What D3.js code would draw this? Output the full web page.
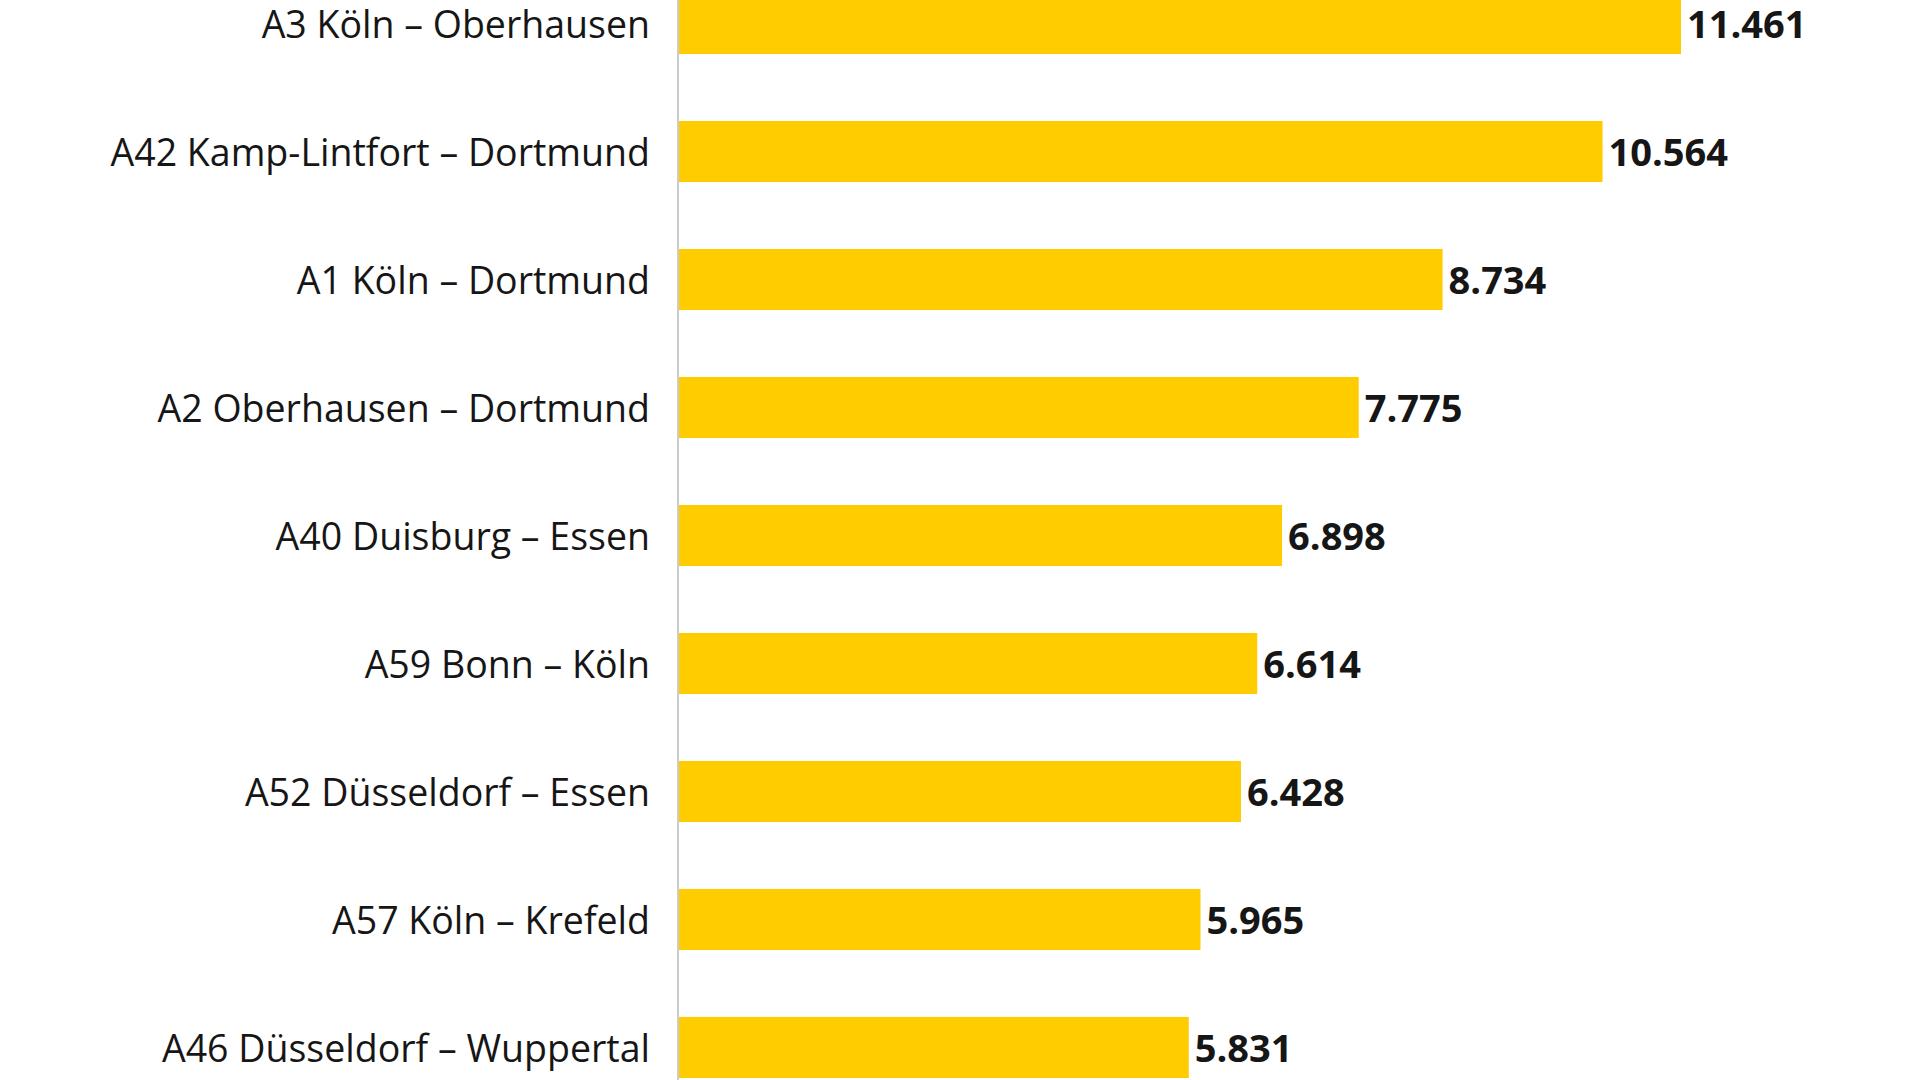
<!DOCTYPE html>
<html>
<head>
<meta charset="utf-8">
<script src="https://cdn.jsdelivr.net/npm/d3@7"></script>
<style>
  html, body { margin: 0; padding: 0; background: #ffffff; }
  svg { display: block; }
</style>
</head>
<body>
<svg id="chart" width="1920" height="1080"></svg>
<script>
const categories = [
  "A3 Köln – Oberhausen",
  "A42 Kamp-Lintfort – Dortmund",
  "A1 Köln – Dortmund",
  "A2 Oberhausen – Dortmund",
  "A40 Duisburg – Essen",
  "A59 Bonn – Köln",
  "A52 Düsseldorf – Essen",
  "A57 Köln – Krefeld",
  "A46 Düsseldorf – Wuppertal"
];
const values = [11461, 10564, 8734, 7775, 6898, 6614, 6428, 5965, 5831];

const data = categories.map((c, i) => ({ name: c, value: values[i] }));

const svg = d3.select("#chart");
const W = 1920, H = 1080;
const left = 679;

const x = d3.scaleLinear()
  .domain([0, d3.max(values)])
  .range([left, 1681]);

const y = d3.scaleBand()
  .domain(categories)
  .range([-7, 1078])
  .paddingInner(0.523)
  .paddingOuter(0);

const fmt = d3.formatLocale({ decimal: ",", thousands: ".", grouping: [3], currency: ["", " €"] }).format(",d");

svg.append("g")
  .selectAll("rect")
  .data(data)
  .join("rect")
  .attr("x", x(0))
  .attr("y", d => y(d.name))
  .attr("width", d => x(d.value) - x(0))
  .attr("height", y.bandwidth())
  .attr("fill", "#ffcc00");

// category labels via axis
const yAxis = d3.axisLeft(y).tickSize(0).tickPadding(28);
const gAxis = svg.append("g")
  .attr("transform", `translate(${x(0) - 1},0)`)
  .call(yAxis);
gAxis.select(".domain").remove();
gAxis.selectAll("text")
  .attr("font-family", "'Open Sans', sans-serif")
  .attr("font-size", 37.5)
  .attr("font-weight", 500)
  .attr("fill", "#161616")
  .attr("dy", "0.38em");

svg.append("line")
  .attr("x1", x(0) - 1).attr("x2", x(0) - 1)
  .attr("y1", 0).attr("y2", H)
  .attr("stroke", "#cccccc")
  .attr("stroke-width", 2);

svg.append("g")
  .selectAll("text")
  .data(data)
  .join("text")
  .attr("x", d => x(d.value) + 6)
  .attr("y", d => y(d.name) + y.bandwidth() / 2)
  .attr("dy", "0.37em")
  .attr("font-family", "'Open Sans', sans-serif")
  .attr("font-weight", 700)
  .attr("font-size", 38)
  .attr("fill", "#161616")
  .text(d => fmt(d.value));
</script>
</body>
</html>
